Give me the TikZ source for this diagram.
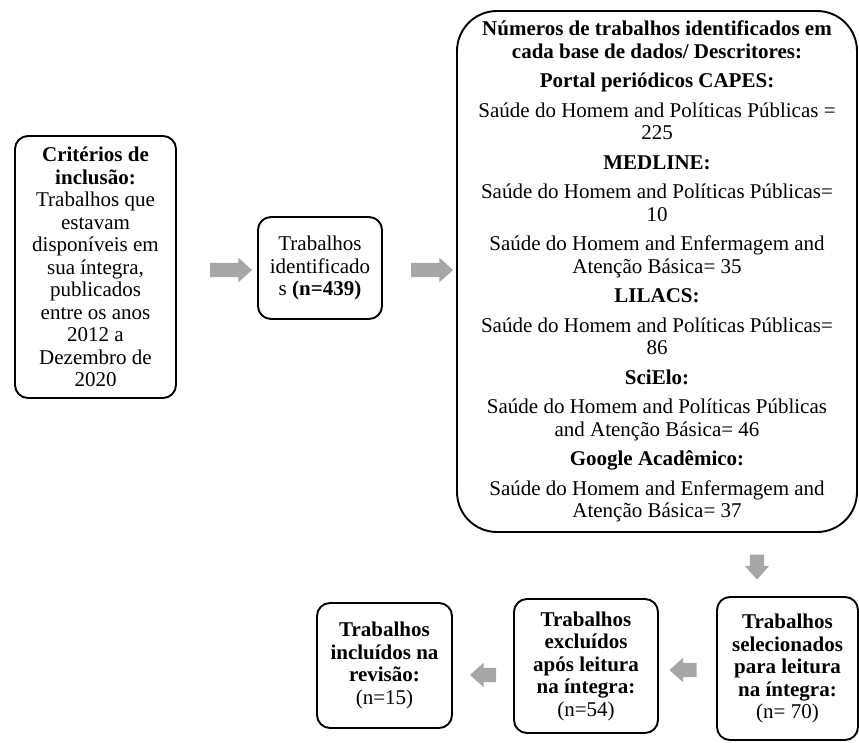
\documentclass[tikz,border=0pt]{standalone}
\usepackage{fontspec}
\setmainfont{Liberation Serif}
\usetikzlibrary{shapes.arrows,calc}
\definecolor{arrowgray}{RGB}{166,166,166}
\tikzset{
  box/.style={draw=black, line width=1.9pt, rounded corners=13pt, align=center,
    inner sep=0pt, font=\fontsize{21}{22.5}\selectfont},
  garrow/.style={single arrow, fill=arrowgray, draw=none, inner sep=0pt,
    text height=7pt, text depth=7pt, single arrow head extend=5pt,
    single arrow tip angle=84}
}
\begin{document}
\begin{tikzpicture}[x=1pt,y=1pt]
\useasboundingbox (0,0) rectangle (859,-742);
% boxes
\node[box, minimum width=161pt, minimum height=262pt] (b1) at (95.5,-267)
  {\textbf{Critérios de}\\ \textbf{inclusão:}\\ Trabalhos que\\ estavam\\ disponíveis em\\ sua íntegra,\\ publicados\\ entre os anos\\ 2012 a\\ Dezembro de\\ 2020};
\node[box, minimum width=124pt, minimum height=102pt] (b2) at (320,-268)
  {Trabalhos\\ identificado\\ s \textbf{(n=439)}};
\node[box, rounded corners=40pt, minimum width=400pt, minimum height=521pt] (b3) at (657,-271.5)
  {\textbf{Números de trabalhos identificados em}\\
   \textbf{cada base de dados/ Descritores:}\\[7pt]
   \textbf{Portal periódicos CAPES:}\\[7pt]
   Saúde do Homem and Políticas Públicas =\\ 225\\[7pt]
   \textbf{MEDLINE:}\\[7pt]
   Saúde do Homem and Políticas Públicas=\\ 10\\[7pt]
   Saúde do Homem and Enfermagem and\\ Atenção Básica= 35\\[7pt]
   \textbf{LILACS:}\\[7pt]
   Saúde do Homem and Políticas Públicas=\\ 86\\[7pt]
   \textbf{SciElo:}\\[7pt]
   Saúde do Homem and Políticas Públicas\\ and Atenção Básica= 46\\[7pt]
   \textbf{Google Acadêmico:}\\[7pt]
   Saúde do Homem and Enfermagem and\\ Atenção Básica= 37};
\node[box, minimum width=141pt, minimum height=143pt] (b4) at (787.5,-668.5)
  {\textbf{Trabalhos}\\ \textbf{selecionados}\\ \textbf{para leitura}\\ \textbf{na íntegra:}\\ (n= 70)};
\node[box, minimum width=144pt, minimum height=134pt] (b5) at (586,-666)
  {\textbf{Trabalhos}\\ \textbf{excluídos}\\ \textbf{após leitura}\\ \textbf{na íntegra:}\\ (n=54)};
\node[box, minimum width=135pt, minimum height=125pt] (b6) at (384.5,-665.5)
  {\textbf{Trabalhos}\\ \textbf{incluídos na}\\ \textbf{revisão:}\\ (n=15)};
% block arrows
\node[garrow, minimum height=42pt] (a1) at (227,-270) {};
\node[garrow, minimum height=42pt] (a2) at (428,-270) {};
\node[garrow, minimum height=25pt, rotate=-90] (a3) at (757,-563) {};
\node[garrow, minimum height=27pt, shape border rotate=180] (a4) at (687,-670) {};
\node[garrow, minimum height=26pt, shape border rotate=180] (a5) at (487,-675) {};
\end{tikzpicture}
\end{document}
